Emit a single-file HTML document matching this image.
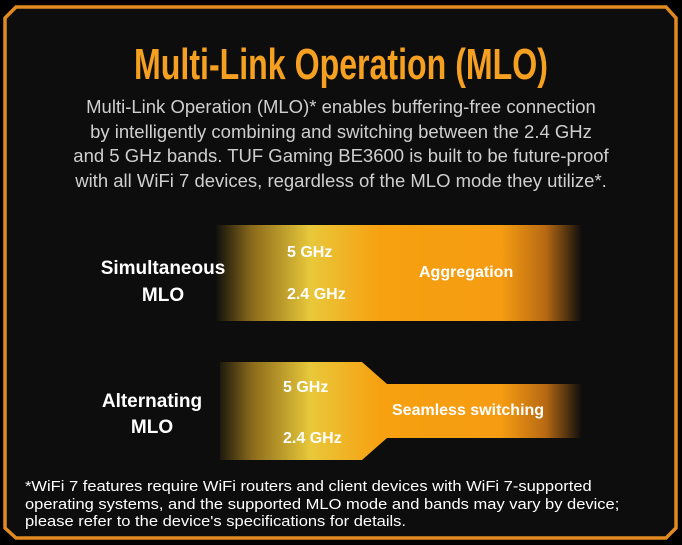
<!DOCTYPE html>
<html><head><style>
body{margin:0;background:#000;width:682px;height:545px;overflow:hidden;position:relative;font-family:"Liberation Sans",sans-serif}
.t{position:absolute;white-space:nowrap}
</style></head><body>
<svg width="682" height="545" style="position:absolute;left:0;top:0">
<defs>
<linearGradient id="g" x1="215" x2="582" gradientUnits="userSpaceOnUse">
<stop offset="0" stop-color="#0d0d0d"/>
<stop offset="0.1" stop-color="#8a6a1a"/>
<stop offset="0.26" stop-color="#e8c83a"/>
<stop offset="0.45" stop-color="#f7a010"/>
<stop offset="0.78" stop-color="#f59c12"/>
<stop offset="0.9" stop-color="#b86a12"/>
<stop offset="1" stop-color="#0d0d0d"/>
</linearGradient>
</defs>
<polygon points="16,7 666,7 676,18 676,528 666,538 16,538 5,528 5,18" fill="#0d0d0d" stroke="#e08a20" stroke-width="3.5"/>
<rect x="215" y="225" width="367" height="96" fill="url(#g)"/>
<polygon points="220,362 362,362 387,384 582,384 582,438 387,438 362,460 220,460" fill="url(#g)"/>
</svg>
<div class="t" style="left:0;width:682px;text-align:center;top:40px;font-size:44px;font-weight:bold;color:#f5a020;transform:scaleX(0.73);transform-origin:341px 0">Multi-Link Operation (MLO)</div>
<div class="t" style="left:0;width:682px;text-align:center;top:95px;font-size:18.5px;line-height:24.6px;color:#cfcfcf;transform:scaleX(1.0);transform-origin:341px 0">Multi-Link Operation (MLO)* enables buffering-free connection<br>by intelligently combining and switching between the 2.4 GHz<br>and 5 GHz bands. TUF Gaming BE3600 is built to be future-proof<br>with all WiFi 7 devices, regardless of the MLO mode they utilize*.</div>
<div class="t" style="left:83px;width:160px;text-align:center;top:255px;font-size:19px;line-height:27px;font-weight:bold;color:#fff">Simultaneous<br>MLO</div>
<div class="t" style="left:72px;width:160px;text-align:center;top:389px;font-size:19px;line-height:26px;font-weight:bold;color:#fff">Alternating<br>MLO</div>
<div class="t" style="left:287px;top:244px;font-size:16px;font-weight:bold;color:#fff">5 GHz</div>
<div class="t" style="left:287px;top:286px;font-size:16px;font-weight:bold;color:#fff">2.4 GHz</div>
<div class="t" style="left:419px;top:264px;font-size:16px;font-weight:bold;color:#fff">Aggregation</div>
<div class="t" style="left:283px;top:379px;font-size:16px;font-weight:bold;color:#fff">5 GHz</div>
<div class="t" style="left:283px;top:430px;font-size:16px;font-weight:bold;color:#fff">2.4 GHz</div>
<div class="t" style="left:392px;top:402px;font-size:16px;font-weight:bold;color:#fff">Seamless switching</div>
<div class="t" style="left:25px;top:478px;font-size:15px;line-height:17.5px;color:#fff;transform:scaleX(1.1);transform-origin:0 0">*WiFi 7 features require WiFi routers and client devices with WiFi 7-supported<br>operating systems, and the supported MLO mode and bands may vary by device;<br>please refer to the device's specifications for details.</div>
</body></html>
